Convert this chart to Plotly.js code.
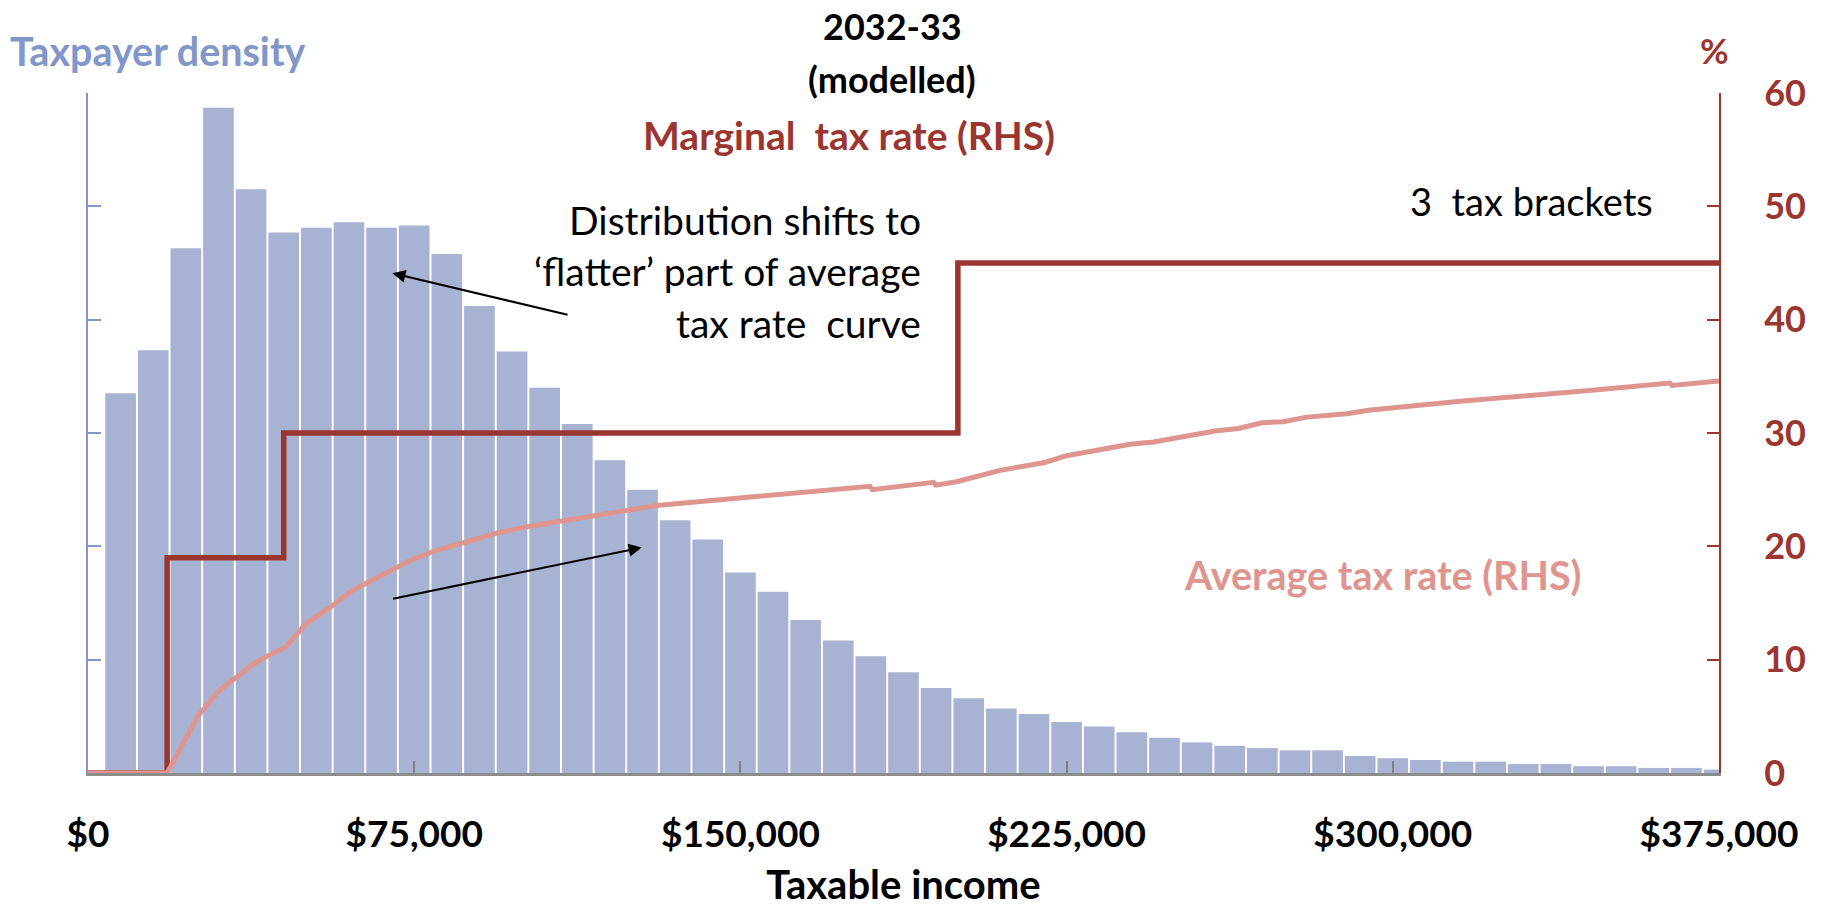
<!DOCTYPE html>
<html>
<head>
<meta charset="utf-8">
<script src="https://cdn.plot.ly/plotly-3.0.1.min.js"></script>
<style>html,body{margin:0;padding:0;background:#fff;}#chart{width:1821px;height:908px;}</style>
</head>
<body>
<div id="chart"></div>
<script>
// Income bins (bar mid-points, $)
const binMidpoints = [7500,15000,22500,30000,37500,45000,52500,60000,67500,75000,
  82500,90000,97500,105000,112500,120000,127500,135000,142500,150000,
  157500,165000,172500,180000,187500,195000,202500,210000,217500,225000,
  232500,240000,247500,255000,262500,270000,277500,285000,292500,300000,
  307500,315000,322500,330000,337500,345000,352500,360000,367500,375000];
// Taxpayer density (unlabelled left axis units)
const density = [3.35,3.73,4.63,5.87,5.15,4.77,4.81,4.86,4.81,4.83,
  4.58,4.12,3.72,3.40,3.08,2.76,2.50,2.23,2.06,1.77,
  1.60,1.35,1.17,1.03,0.89,0.75,0.66,0.57,0.52,0.45,
  0.41,0.36,0.31,0.27,0.24,0.22,0.20,0.20,0.15,0.13,
  0.115,0.10,0.10,0.08,0.08,0.06,0.06,0.045,0.045,0.03];
// Marginal tax rate thresholds ($) and rates (%)
const mtrIncome = [0,18200,45000,200000,375000];
const mtrRate = [0,19,30,45,45];
// Average tax rate curve
const atrIncome = [0,18200,25200,30200,34300,37900,41600,45400,50200,56300,60700,74300,80600,94300,100600,108500,116200,120800,130800,179800,180300,194400,194900,199700,209700,220000,225000,239600,245000,259500,264500,269900,274800,280200,289400,294400,315500,346500,363700,364200,375000];
const atrRate = [0,0,5.0,7.3,8.5,9.6,10.4,11.1,13.2,14.8,16.1,18.8,19.7,21.2,21.7,22.2,22.7,22.9,23.6,25.3,25.0,25.65,25.4,25.7,26.7,27.4,28.0,29.0,29.2,30.2,30.4,30.9,31.0,31.4,31.7,32.0,32.8,33.8,34.4,34.2,34.6];
// Axis ticks
const xTicks = [0,75000,150000,225000,300000,375000];
const xTickText = ['$0','$75,000','$150,000','$225,000','$300,000','$375,000'];
const rhsTicks = [0,10,20,30,40,50,60];

const FONT = 'Lato, "Open Sans", sans-serif';
const BLUE = '#8196C9', BAR = '#A8B3D3', DARKRED = '#9B3530', SALMON = '#DF958F';

const traces = [
  {type:'bar', x:binMidpoints, y:density, marker:{color:BAR}, yaxis:'y', hoverinfo:'skip'},
  {type:'scatter', mode:'lines', x:mtrIncome, y:mtrRate, yaxis:'y2', line:{color:DARKRED, width:5.5, shape:'hv'}},
  {type:'scatter', mode:'lines', x:atrIncome, y:atrRate, yaxis:'y2', line:{color:SALMON, width:5}}
];

const W = 1631, H = 680, L = 88, T = 93;
function px(x){return (x-L)/W;}
function py(y){return (T+H-y)/H;}

const ann = [];
function txt(text, x, y, xa, color, size, bold){
  ann.push({xref:'paper', yref:'paper', x:px(x), y:py(y), xanchor:xa, yanchor:'middle',
    text: bold ? '<b>'+text+'</b>' : text, showarrow:false,
    font:{family:FONT, size:size, color:color}});
}
txt('Taxpayer density', 8, 50, 'left', BLUE, 39.5, true);
txt('2032-33', 892, 26, 'center', '#000', 36, true);
txt('(modelled)', 892, 79, 'center', '#000', 36, true);
txt('Marginal\u00a0 tax rate (RHS)', 849, 135, 'center', DARKRED, 39, true);
txt('%', 1714, 50, 'center', DARKRED, 35, true);
txt('Distribution shifts to', 923, 220, 'right', '#000', 39, false);
txt('\u2018flatter\u2019 part of average', 923, 271, 'right', '#000', 39, false);
txt('tax rate\u00a0 curve', 923, 323, 'right', '#000', 39, false);
txt('3\u00a0 tax brackets', 1655, 201, 'right', '#000', 38, false);
txt('Average tax rate (RHS)', 1583, 574, 'right', SALMON, 39.5, true);

// arrows (data coords)
ann.push({xref:'x', yref:'y2', axref:'x', ayref:'y2', x:70000, y:44.1, ax:110600, ay:40.4,
  showarrow:true, arrowhead:2, arrowsize:1.3, arrowwidth:2, arrowcolor:'#000', text:'', standoff:0});
ann.push({xref:'x', yref:'y2', axref:'x', ayref:'y2', x:127300, y:19.9, ax:69800, ay:15.35,
  showarrow:true, arrowhead:2, arrowsize:1.3, arrowwidth:2, arrowcolor:'#000', text:'', standoff:0});

const layout = {
  width:1821, height:908,
  margin:{l:L, r:1821-L-W, t:T, b:908-T-H},
  paper_bgcolor:'#fff', plot_bgcolor:'#fff',
  showlegend:false, bargap:0.06,
  font:{family:FONT, color:'#000'},
  xaxis:{range:[0,375000], tickvals:xTicks, ticktext:xTickText, ticks:'inside', ticklen:12, tickwidth:2,
    tickcolor:'#808080', showline:true, linecolor:'#8c8c8c', linewidth:3, showgrid:false, zeroline:false,
    tickfont:{family:FONT, size:37, color:'#000', weight:'bold'}, ticklabelstandoff:27,
    title:{text:'<b>Taxable income</b>', font:{family:FONT, size:40, color:'#000'}, standoff:25}},
  yaxis:{range:[0,6], dtick:1, tick0:0, ticks:'inside', ticklen:13, tickwidth:2, tickcolor:BLUE,
    showline:true, linecolor:BLUE, linewidth:2, showticklabels:false, showgrid:false, zeroline:false},
  yaxis2:{range:[0,60], tickvals:rhsTicks, overlaying:'y', side:'right', ticks:'inside', ticklen:12, tickwidth:2,
    tickcolor:DARKRED, showline:true, linecolor:DARKRED, linewidth:2, showgrid:false, zeroline:false,
    tickfont:{family:FONT, size:36, color:DARKRED, weight:'bold'}, ticklabelstandoff:36},
  annotations:ann
};
Plotly.newPlot('chart', traces, layout, {displayModeBar:false, staticPlot:true});
</script>
</body>
</html>
